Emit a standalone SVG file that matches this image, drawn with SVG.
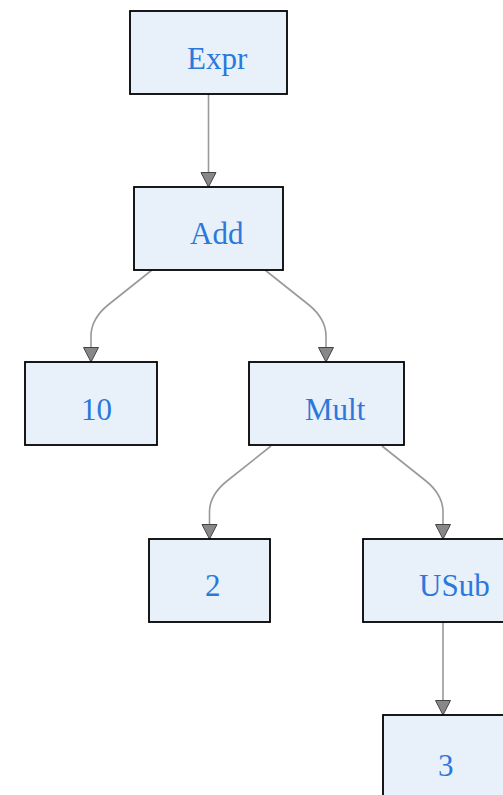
<svg xmlns="http://www.w3.org/2000/svg" width="503" height="795" viewBox="0 0 503 795">
<style>
.box{fill:#e8f0fa;stroke:#000;stroke-width:1.8}
.lbl{font-family:"Liberation Serif","DejaVu Serif",serif;font-size:31px;fill:#2b78dc}
.edge{fill:none;stroke:#999;stroke-width:1.6}
</style>
<defs>
<marker id="arr" markerUnits="userSpaceOnUse" markerWidth="18" markerHeight="18" refX="15.5" refY="8" orient="auto" viewBox="0 0 18 16">
<path d="M1,0.5 L15.5,8 L1,15.5 Z" fill="#888" stroke="#444" stroke-width="1"/>
</marker>
</defs>
<rect width="503" height="795" fill="#fff"/>
<g id="connectors">
<path class="edge" d="M208.5,94 L208.5,187" marker-end="url(#arr)"/>
<path class="edge" d="M152,270 L108,305 Q91,319 91,336 L91,362" marker-end="url(#arr)"/>
<path class="edge" d="M265,270 L309,305 Q326,319 326,336 L326,362" marker-end="url(#arr)"/>
<path class="edge" d="M271,446 L227,481 Q209.5,495 209.5,512 L209.5,539" marker-end="url(#arr)"/>
<path class="edge" d="M382,446 L426,481 Q443,495 443,512 L443,539" marker-end="url(#arr)"/>
<path class="edge" d="M443,622 L443,715" marker-end="url(#arr)"/>
</g>
<g id="n-expr"><rect class="box" x="130" y="11" width="157" height="83"/><text class="lbl" x="187" y="69">Expr</text></g>
<g id="n-add"><rect class="box" x="134" y="187" width="149" height="83"/><text class="lbl" x="190" y="244">Add</text></g>
<g id="n-10"><rect class="box" x="25" y="362" width="132" height="83"/><text class="lbl" x="81" y="420">10</text></g>
<g id="n-mult"><rect class="box" x="249" y="362" width="155" height="83"/><text class="lbl" x="305" y="420">Mult</text></g>
<g id="n-2"><rect class="box" x="149" y="539" width="121" height="83"/><text class="lbl" x="205" y="596">2</text></g>
<g id="n-usub"><rect class="box" x="363" y="539" width="160" height="83"/><text class="lbl" x="419" y="596">USub</text></g>
<g id="n-3"><rect class="box" x="383" y="715" width="121" height="83"/><text class="lbl" x="438" y="776">3</text></g>
</svg>
